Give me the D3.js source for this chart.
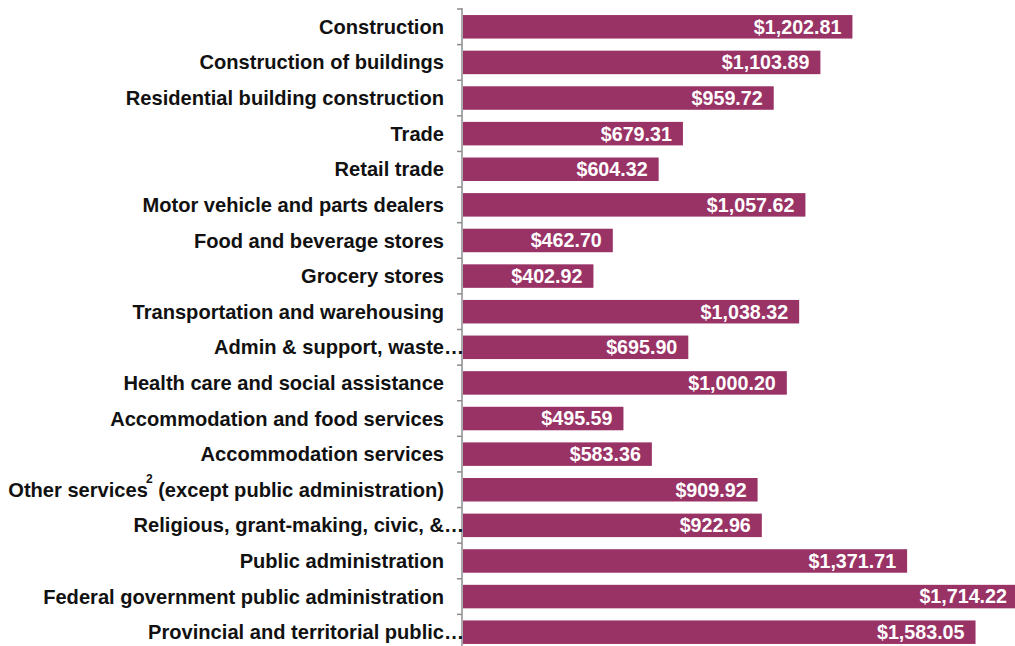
<!DOCTYPE html>
<html>
<head>
<meta charset="utf-8">
<script src="https://cdn.jsdelivr.net/npm/d3@7"></script>
<style>
  body { margin: 0; background: #fff; }
  text { font-family: "Liberation Sans", Arial, sans-serif; font-weight: bold; }
</style>
</head>
<body>
<div id="chart"></div>
<script>
// industries, top to bottom
const categories = [
  'Construction',
  'Construction of buildings',
  'Residential building construction',
  'Trade',
  'Retail trade',
  'Motor vehicle and parts dealers',
  'Food and beverage stores',
  'Grocery stores',
  'Transportation and warehousing',
  'Admin & support, waste…',
  'Health care and social assistance',
  'Accommodation and food services',
  'Accommodation services',
  'Other services (except public administration)',
  'Religious, grant-making, civic, &…',
  'Public administration',
  'Federal government public administration',
  'Provincial and territorial public…',
];

// average weekly earnings ($)
const values = [
  1202.81, 1103.89, 959.72, 679.31, 604.32, 1057.62, 462.70, 402.92, 1038.32,
  695.90, 1000.20, 495.59, 583.36, 909.92, 922.96, 1371.71, 1714.22, 1583.05,
];

// footnote markers on labels
const footnotes = { 'Other services (except public administration)': '2' };

const width = 1015;
const height = 646;
const axisX = 462;
const barColor = '#993366';
const valueFont = '19.7px';
const labelFont = '20.1px';

const data = categories.map((name, i) => ({ name, value: values[i] }));

const svg = d3.select('#chart')
  .append('svg')
  .attr('width', width)
  .attr('height', height);

const x = d3.scaleLinear()
  .domain([0, d3.max(values)])
  .range([axisX + 1, 1018]);

const y = d3.scaleBand()
  .domain(categories)
  .range([9, 650])
  .paddingInner(0.34)
  .paddingOuter(0.17);

// bars
svg.append('g')
  .selectAll('rect')
  .data(data)
  .enter()
  .append('rect')
  .attr('x', x(0))
  .attr('y', (d) => y(d.name))
  .attr('width', (d) => x(d.value) - x(0))
  .attr('height', y.bandwidth())
  .attr('fill', barColor);

// value labels inside the bar ends
const fmt = d3.format('$,.2f');
svg.append('g')
  .selectAll('text')
  .data(data)
  .enter()
  .append('text')
  .attr('x', (d) => x(d.value) - 11)
  .attr('y', (d) => y(d.name) + y.bandwidth() / 2)
  .attr('dy', '0.35em')
  .attr('text-anchor', 'end')
  .attr('fill', '#fff')
  .style('font-size', valueFont)
  .text((d) => fmt(d.value));

// category axis: line with ticks between bands
const axis = svg.append('g').attr('stroke', '#8c8c8c').attr('stroke-width', 1.5);
axis.append('line')
  .attr('x1', axisX).attr('x2', axisX)
  .attr('y1', y.range()[0] - 1).attr('y2', y.range()[1]);
const tickYs = categories.map((c) => y(c) - y.step() * 0.17);
tickYs.push(y.range()[1]);
axis.selectAll('.tick')
  .data(tickYs)
  .enter()
  .append('line')
  .attr('x1', axisX - 5).attr('x2', axisX)
  .attr('y1', (d) => d).attr('y2', (d) => d);

// category labels
const labelX = 444;
const labels = svg.append('g')
  .selectAll('g')
  .data(categories)
  .enter()
  .append('g')
  .attr('transform', (d) => `translate(0,${y(d) + y.bandwidth() / 2})`);

labels.append('text')
  .attr('x', labelX)
  .attr('dy', '0.35em')
  .attr('text-anchor', 'end')
  .attr('fill', '#111')
  .style('font-size', labelFont)
  .each(function addLabel(d) {
    const t = d3.select(this);
    const base = d.endsWith('…') ? d.slice(0, -1) : d;
    const note = footnotes[d];
    if (note) {
      const cut = base.indexOf(' (');
      t.append('tspan').text(base.slice(0, cut));
      t.append('tspan').attr('dx', -2).attr('dy', -14)
        .style('font-size', '12px').text(note);
      t.append('tspan').attr('dy', 14).text(base.slice(cut));
    } else {
      t.text(base);
    }
  });

// truncated labels spill their ellipsis toward the axis
labels.filter((d) => d.endsWith('…'))
  .append('text')
  .attr('x', labelX)
  .attr('dy', '0.35em')
  .attr('fill', '#111')
  .style('font-size', labelFont)
  .text('…');
</script>
</body>
</html>
